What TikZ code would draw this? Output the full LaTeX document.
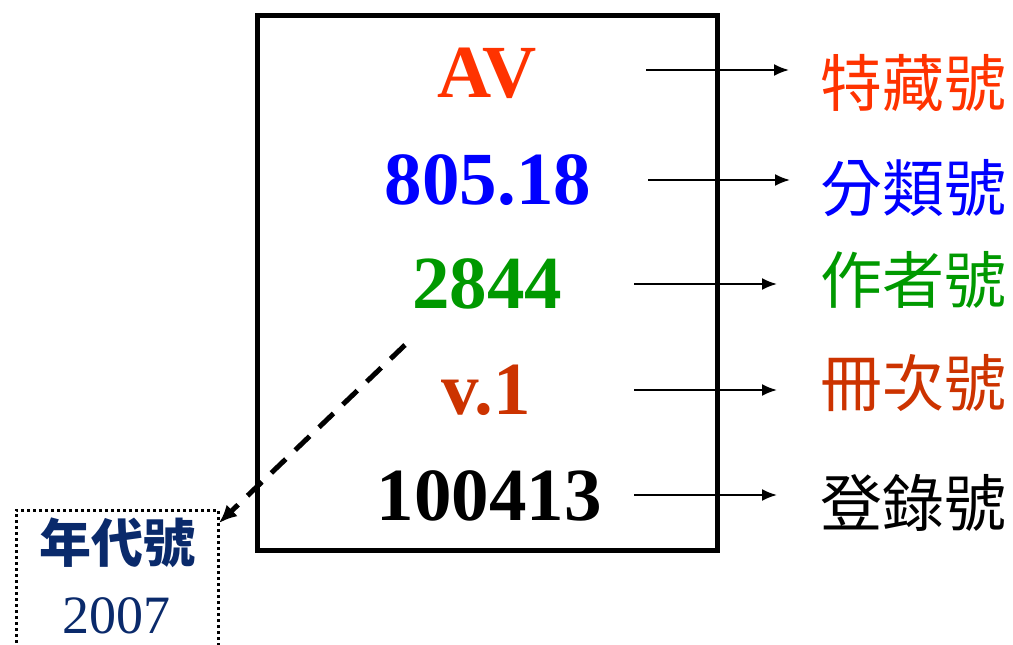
\documentclass[tikz,border=0pt]{standalone}
\usepackage{fontspec}
\setmainfont{Liberation Serif}
\newfontfamily\cjk{Noto Sans CJK TC}
\usetikzlibrary{arrows.meta,calc}
\definecolor{cAV}{HTML}{FF3300}
\definecolor{cCL}{HTML}{0000FF}
\definecolor{cAU}{HTML}{009900}
\definecolor{cVO}{HTML}{CC3300}
\definecolor{cYR}{HTML}{0A2A6B}
\tikzset{
  num/.style={anchor=base, inner sep=0pt, font=\fontsize{75}{75}\selectfont\bfseries},
  lbl/.style={anchor=west, inner sep=0pt, font=\cjk\fontsize{62}{62}\selectfont},
  arr/.style={line width=2pt, -{Latex[length=15pt,width=12pt]}},
  cardbox/.style={draw, line width=5pt},
  yearbox/.style={draw, line width=3pt, dash pattern=on 3pt off 3pt, minimum width=202pt, minimum height=150pt, anchor=north west, outer sep=0pt, inner sep=0pt},
  dasharr/.style={line width=5pt, dash pattern=on 20pt off 13pt, -{Latex[length=18pt,width=16pt]}}
}
\begin{document}
\begin{tikzpicture}[x=1pt,y=-1pt]
\useasboundingbox (0,0) rectangle (1013,645);
\clip (0,0) rectangle (1013,645);
\fill[white] (0,0) rectangle (1013,645);
\draw[cardbox] (257.5,15.5) rectangle (717.5,550);
\node[num, text=cAV] (av) at (487,97) {AV};
\node[num, text=cCL] (cl) at (488,204) {805.18};
\node[num, text=cAU] (au) at (487,308) {2844};
\node[num, text=cVO] (vo) at (486,414) {v.1};
\node[num, text=black] (rg) at (489,520) {100413};
\node[lbl, text=cAV] (l1) at (820,83) {特藏號};
\node[lbl, text=cCL] (l2) at (820,188) {分類號};
\node[lbl, text=cAU] (l3) at (820,280) {作者號};
\node[lbl, text=cVO] (l4) at (820,383) {冊次號};
\node[lbl, text=black] (l5) at (820,503) {登錄號};
\coordinate (s1) at (646,70);
\coordinate (s2) at (648,180);
\coordinate (s3) at (634,284);
\coordinate (s4) at (634,390);
\coordinate (s5) at (634,495);
\draw[arr, shorten >=31pt] (s1) -- (s1 -| l1.west);
\draw[arr, shorten >=30pt] (s2) -- (s2 -| l2.west);
\draw[arr, shorten >=43pt] (s3) -- (s3 -| l3.west);
\draw[arr, shorten >=43pt] (s4) -- (s4 -| l4.west);
\draw[arr, shorten >=43pt] (s5) -- (s5 -| l5.west);
\node[yearbox] (yb) at (16,510) {};
\node[inner sep=0pt, text=cYR, font=\cjk\fontsize{52}{52}\selectfont\bfseries] (yt) at (117,543) {年代號};
\node[inner sep=0pt, text=cYR, font=\fontsize{54}{54}\selectfont, anchor=base] (yn) at (116,633) {2007};
\coordinate (ds) at (405,345);
\draw[dasharr] (ds) -- ($(yb.north east)+(1,13)$);
\end{tikzpicture}
\end{document}
